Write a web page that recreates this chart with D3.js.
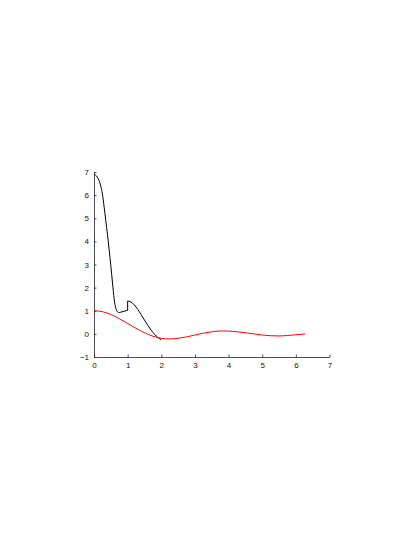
<!DOCTYPE html>
<html>
<head>
  <meta charset="utf-8">
  <title>curves</title>
  <style>
    body { margin: 0; background: #fff; }
    .axis path, .axis line { stroke: #222; stroke-width: 0.8; }
    .axis text { font-family: 'Liberation Sans', Arial, sans-serif; font-size: 8px; fill: #111; }
  </style>
</head>
<body>
  <div id='chart'></div>
  <script src="https://d3js.org/d3.v7.min.js"></script>
  <script>
    // black curve (jump at x = 1)
    let blackX = [0, 0.1, 0.2, 0.25, 0.3, 0.35, 0.4, 0.45, 0.5, 0.55, 0.6, 0.65, 0.7, 0.75, 0.8, 0.9, 1.0,
      1.0, 1.1, 1.2, 1.3, 1.4, 1.5, 1.6, 1.7, 1.8, 1.9, 2.0];
    let blackY = [6.9, 6.78, 6.4, 6.05, 5.5, 4.9, 4.3, 3.65, 2.95, 2.2, 1.5, 1.1, 0.95, 0.92, 0.94, 0.98, 1.02,
      1.42, 1.38, 1.25, 1.06, 0.84, 0.6, 0.37, 0.16, -0.02, -0.16, -0.26];

    // red curve
    let redX = [0, 0.25, 0.5, 0.75, 1.0, 1.25, 1.5, 1.75, 2.0, 2.25, 2.5, 2.75, 3.0, 3.25, 3.5, 3.75, 4.0,
      4.25, 4.5, 4.75, 5.0, 5.25, 5.5, 5.75, 6.0, 6.28];
    let redY = [1, 0.96, 0.84, 0.66, 0.45, 0.24, 0.05, -0.1, -0.19, -0.22, -0.19, -0.13, -0.05, 0.03, 0.09, 0.125, 0.12,
      0.09, 0.05, 0.0, -0.05, -0.08, -0.09, -0.07, -0.04, 0.0];

    let xTicks = [0, 1, 2, 3, 4, 5, 6, 7];
    let yTicks = [-1, 0, 1, 2, 3, 4, 5, 6, 7];

    let svgWidth = 415;
    let svgHeight = 537;

    let svg = d3.select('#chart').append('svg')
      .attr('width', svgWidth)
      .attr('height', svgHeight);

    let x = d3.scaleLinear().domain([0, 7]).range([94, 329.5]);
    let y = d3.scaleLinear().domain([-1, 7]).range([357, 172]);

    // axes, ticks pointing inward, no box
    svg.append('g')
      .attr('class', 'axis')
      .attr('transform', 'translate(0,' + y(-1) + ')')
      .call(d3.axisBottom(x).tickValues(xTicks).tickSizeInner(-2.5).tickSizeOuter(0).tickPadding(5).tickFormat(d3.format('d')));

    svg.append('g')
      .attr('class', 'axis')
      .attr('transform', 'translate(' + x(0) + ',0)')
      .call(d3.axisLeft(y).tickValues(yTicks).tickSizeInner(-2.5).tickSizeOuter(0).tickPadding(5)
        .tickFormat(d => d < 0 ? '\u2212' + Math.abs(d) : d));

    function pts(xs, ys) {
      return xs.map((d, i) => [d, ys[i]]);
    }

    let line = d3.line()
      .x(d => x(d[0]))
      .y(d => y(d[1]))
      .curve(d3.curveMonotoneX);

    // the black curve has a vertical step at x = 1, draw it as two smooth pieces joined by a straight segment
    let black = pts(blackX, blackY);
    let part1 = black.slice(0, 17);
    let part2 = black.slice(17);

    svg.append('path')
      .attr('d', line(part1) + 'L' + line(part2).slice(1))
      .style('fill', 'none')
      .style('stroke', '#000')
      .style('stroke-width', 1);

    svg.append('path')
      .attr('d', line(pts(redX, redY)))
      .style('fill', 'none')
      .style('stroke', '#f00')
      .style('stroke-width', 1);
  </script>
</body>
</html>
